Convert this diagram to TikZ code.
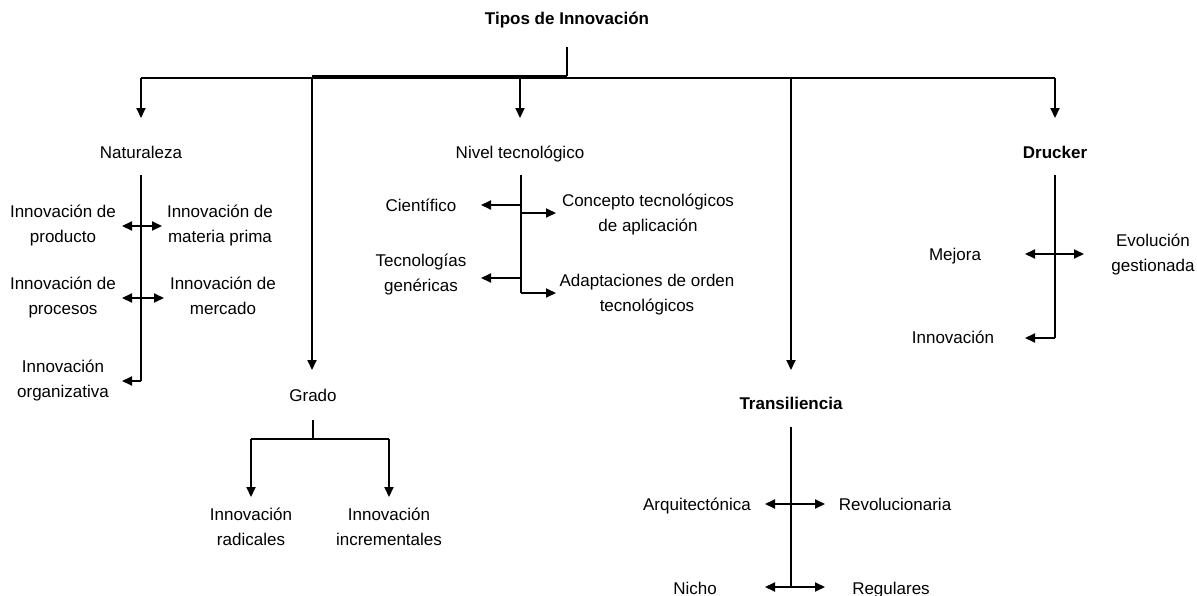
\documentclass[tikz,border=0pt]{standalone}
\usepackage{fontspec}
\setmainfont{Liberation Sans}
\usetikzlibrary{arrows.meta}
\begin{document}
\begin{tikzpicture}[x=0.75pt,y=-0.75pt,
  lbl/.style={font=\fontsize{12.75}{18.75}\selectfont, align=center, inner sep=0pt, yshift=-0.8pt,
    execute at begin node=\strut, execute at end node=\strut},
  mlbl/.style={lbl, yshift=-1.4pt},
  blbl/.style={lbl, font=\fontsize{12.75}{18.75}\selectfont\bfseries},
  ln/.style={line width=1.2pt},
  thk/.style={line width=2.2pt},
  arr/.style={ln, -{Triangle[length=7.5pt,width=6.8pt]}},
  darr/.style={ln, {Triangle[length=7.5pt,width=6.8pt]}-{Triangle[length=7.5pt,width=6.8pt]}},
]
\useasboundingbox (0,0) rectangle (1197,596);
\fill[white] (0,0) rectangle (1197,596);

% ---- top
\node[blbl] (top) at (567,18) {Tipos de Innovación};
\coordinate (stem) at (567,47);
\coordinate (h0) at (141,78);
\coordinate (h1) at (312,78);
\coordinate (h2) at (520,78);
\coordinate (h3) at (567,78);
\coordinate (h4) at (791,78);
\coordinate (h5) at (1055,78);
\coordinate (t1) at (312,76);
\coordinate (t3) at (567,76);
\draw[ln] (h0) -- (h5);
\draw[thk] (t1) -- (t3);
\draw[thk] (stem) -- (t3);

\coordinate (a0) at (141,118);
\coordinate (a1) at (312,370);
\coordinate (a2) at (520,118);
\coordinate (a4) at (791,370);
\coordinate (a5) at (1055,118);
\draw[arr] (h0) -- (a0);
\draw[arr] (h1) -- (a1);
\draw[arr] (h2) -- (a2);
\draw[arr] (h4) -- (a4);
\draw[arr] (h5) -- (a5);

% ---- Naturaleza
\node[lbl] (nat) at (141,152) {Naturaleza};
\node[mlbl] (prod) at (63,225) {Innovación de\\producto};
\node[mlbl] (mat) at (220,225) {Innovación de\\materia prima};
\node[mlbl] (proc) at (63,297) {Innovación de\\procesos};
\node[mlbl] (merc) at (223,297) {Innovación de\\mercado};
\node[mlbl] (org) at (63,380) {Innovación\\organizativa};
\coordinate (nv0) at (141,175);
\coordinate (nv1) at (141,381);
\draw[ln] (nv0) -- (nv1);
\coordinate (n1l) at (122,226);
\coordinate (n1r) at (162,226);
\coordinate (n2l) at (122,298);
\coordinate (n2r) at (164,298);
\coordinate (n3l) at (122,381);
\draw[darr] (n1l) -- (n1r);
\draw[darr] (n2l) -- (n2r);
\draw[arr] (nv1) -- (n3l);

% ---- Nivel tecnologico
\node[lbl] (niv) at (520,152) {Nivel tecnológico};
\node[lbl] (cien) at (421,205) {Científico};
\node[mlbl] (conc) at (648,214) {Concepto tecnológicos\\de aplicación};
\node[mlbl] (tecg) at (421,274) {Tecnologías\\genéricas};
\node[mlbl] (adap) at (647,294) {Adaptaciones de orden\\tecnológicos};
\coordinate (tv0) at (521,175);
\coordinate (tv1) at (521,205);
\coordinate (tv2) at (521,213);
\coordinate (tv3) at (521,278);
\coordinate (tv4) at (521,293);
\draw[ln] (tv0) -- (tv4);
\coordinate (ce) at (481,205);
\coordinate (co) at (556,213);
\coordinate (te) at (481,278);
\coordinate (ad) at (556,293);
\draw[arr] (tv1) -- (ce);
\draw[arr] (tv2) -- (co);
\draw[arr] (tv3) -- (te);
\draw[arr] (tv4) -- (ad);

% ---- Drucker
\node[blbl] (dru) at (1055,152) {Drucker};
\node[lbl] (mej) at (955,254) {Mejora};
\node[mlbl] (evo) at (1153,254) {Evolución\\gestionada};
\node[lbl] (inn) at (953,337) {Innovación};
\coordinate (dv0) at (1055,175);
\coordinate (dv1) at (1055,338);
\draw[ln] (dv0) -- (dv1);
\coordinate (d1l) at (1025,254);
\coordinate (d1r) at (1084,254);
\coordinate (d2l) at (1025,338);
\draw[darr] (d1l) -- (d1r);
\draw[arr] (dv1) -- (d2l);

% ---- Grado
\node[lbl] (gra) at (313,395) {Grado};
\node[mlbl] (rad) at (251,528) {Innovación\\radicales};
\node[mlbl] (inc) at (389,528) {Innovación\\incrementales};
\coordinate (g0) at (313,420);
\coordinate (g1) at (313,439);
\coordinate (gl) at (251,439);
\coordinate (gr) at (389,439);
\coordinate (gla) at (251,497);
\coordinate (gra2) at (389,497);
\draw[ln] (g0) -- (g1);
\draw[ln] (gl) -- (gr);
\draw[arr] (gl) -- (gla);
\draw[arr] (gr) -- (gra2);

% ---- Transiliencia
\node[blbl] (tra) at (791,403) {Transiliencia};
\node[lbl] (arq) at (697,504) {Arquitectónica};
\node[lbl] (rev) at (895,504) {Revolucionaria};
\node[lbl] (nic) at (695,588) {Nicho};
\node[lbl] (reg) at (891,588) {Regulares};
\coordinate (rv0) at (791,427);
\coordinate (rv1) at (791,587);
\draw[ln] (rv0) -- (rv1);
\coordinate (r1l) at (765,504);
\coordinate (r1r) at (825,504);
\coordinate (r2l) at (765,587);
\coordinate (r2r) at (825,587);
\draw[darr] (r1l) -- (r1r);
\draw[darr] (r2l) -- (r2r);
\end{tikzpicture}
\end{document}
